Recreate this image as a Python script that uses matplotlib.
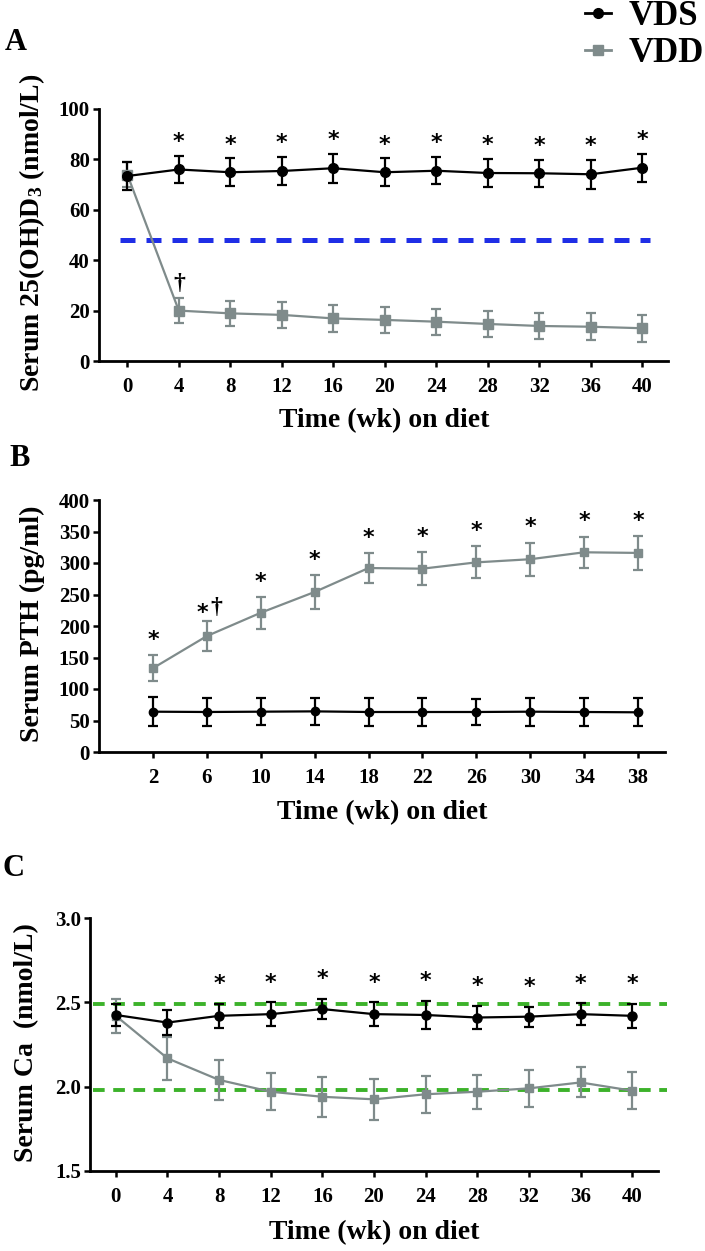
import matplotlib
matplotlib.use('Agg')
import matplotlib.pyplot as plt
from matplotlib.lines import Line2D

plt.rcParams['font.family'] = ['Liberation Serif', 'DejaVu Serif']
plt.rcParams['font.weight'] = 'bold'
plt.rcParams['mathtext.default'] = 'regular'

# ---------------- data ----------------
weeks_A = [0, 4, 8, 12, 16, 20, 24, 28, 32, 36, 40]
vds_A = [73.4, 76.0, 74.9, 75.4, 76.5, 74.9, 75.5, 74.6, 74.5, 74.1, 76.7]
vds_A_err = [5.5, 5.5, 5.5, 5.6, 5.7, 5.5, 5.4, 5.6, 5.4, 5.7, 5.6]
vdd_A = [74.0, 20.0, 18.9, 18.3, 16.9, 16.3, 15.6, 14.7, 13.9, 13.6, 13.0]
vdd_A_err = [5.0, 5.1, 5.0, 5.1, 5.2, 5.2, 5.2, 5.2, 5.1, 5.3, 5.3]
sig_A = ['', '*', '*', '*', '*', '*', '*', '*', '*', '*', '*']
dag_A = ['', '†', '', '', '', '', '', '', '', '', '']
threshold_A = 48

weeks_B = [2, 6, 10, 14, 18, 22, 26, 30, 34, 38]
vds_B = [64, 63.5, 64, 64.5, 63.5, 63.5, 63.5, 64, 63.5, 63]
vds_B_err = [23, 22, 21, 22, 23, 22, 21, 22, 23, 22]
vdd_B = [133, 184, 221, 254, 292, 291, 301, 306, 317, 316]
vdd_B_err = [20.5, 24, 25, 27, 24, 26, 25.5, 26.5, 25, 26.5]
sig_B = ['*', '*', '*', '*', '*', '*', '*', '*', '*', '*']
dag_B = ['', '†', '', '', '', '', '', '', '', '']

weeks_C = [0, 4, 8, 12, 16, 20, 24, 28, 32, 36, 40]
vds_C = [2.425, 2.38, 2.42, 2.43, 2.46, 2.43, 2.425, 2.41, 2.415, 2.43, 2.42]
vds_C_err = [0.065, 0.072, 0.071, 0.072, 0.061, 0.071, 0.084, 0.07, 0.059, 0.064, 0.072]
vdd_C = [2.42, 2.168, 2.04, 1.97, 1.94, 1.925, 1.955, 1.97, 1.99, 2.025, 1.976]
vdd_C_err = [0.099, 0.128, 0.12, 0.11, 0.12, 0.12, 0.11, 0.10, 0.11, 0.089, 0.11]
sig_C = ['', '', '*', '*', '*', '*', '*', '*', '*', '*', '*']
ref_C = [2.49, 1.98]

xticks_A = weeks_A
yticks_A = [0, 20, 40, 60, 80, 100]
xticks_B = weeks_B
yticks_B = [0, 50, 100, 150, 200, 250, 300, 350, 400]
xticks_C = weeks_C
yticks_C = [1.5, 2.0, 2.5, 3.0]
ytick_labels_C = ['1.5', '2.0', '2.5', '3.0']

# ---------------- styling ----------------
W, H = 705, 1251
BLACK = '#000000'
GREY = '#7f8b8b'
fig = plt.figure(figsize=(W / 100, H / 100), dpi=100)


def px_axes(left, right, top, bottom):
    return fig.add_axes([left / W, 1 - bottom / H, (right - left) / W, (bottom - top) / H])


def style(ax):
    for s in ['top', 'right']:
        ax.spines[s].set_visible(False)
    for s in ['left', 'bottom']:
        ax.spines[s].set_linewidth(2.0)
    ax.tick_params(axis='both', length=4.5, width=1.8, labelsize=15)
    ax.tick_params(axis='x', pad=7)
    ax.tick_params(axis='y', pad=2)
    for lab in ax.get_xticklabels() + ax.get_yticklabels():
        lab.set_fontweight('bold')


def draw(ax, x, y, e, color, marker, ms):
    ax.errorbar(x, y, yerr=e, color=color, marker=marker, ms=ms, lw=1.6,
                elinewidth=1.6, capsize=3.6, capthick=1.6, mec=color, mfc=color,
                clip_on=False, zorder=3)


def stars(ax, x, y, e, marks, off, dx=0, font='DejaVu Sans', size=16):
    for xi, yi, ei, m in zip(x, y, e, marks):
        if m:
            ax.annotate(m, (xi, yi + ei), xytext=(dx, off), textcoords='offset points',
                        ha='center', va='center', fontsize=size, fontweight='bold',
                        family=font, annotation_clip=False)


# ---------- Panel A ----------
axA = px_axes(99, 668, 109, 361)
draw(axA, weeks_A, vdd_A, vdd_A_err, GREY, 's', 6.5)
draw(axA, weeks_A, vds_A, vds_A_err, BLACK, 'o', 7)
axA.hlines(threshold_A, -0.6, 40.6, colors='#1f2ee6', linestyles=(0, (3.0, 2.2)), lw=3.6, zorder=2)
axA.set_xlim(-2.2, 42)
axA.set_ylim(0, 100)
axA.set_xticks(xticks_A)
axA.set_yticks(yticks_A)
style(axA)
stars(axA, weeks_A, vds_A, vds_A_err, sig_A, 10)
stars(axA, weeks_A, vdd_A, vdd_A_err, dag_A, 10, font='Liberation Serif', size=17)

# ---------- Panel B ----------
axB = px_axes(99, 665, 500, 752)
draw(axB, weeks_B, vdd_B, vdd_B_err, GREY, 's', 6)
draw(axB, weeks_B, vds_B, vds_B_err, BLACK, 'o', 6)
axB.set_xlim(-2, 40)
axB.set_ylim(0, 400)
axB.set_xticks(xticks_B)
axB.set_yticks(yticks_B)
style(axB)
sigB_plain = [s if not d else '' for s, d in zip(sig_B, dag_B)]
stars(axB, weeks_B, vdd_B, vdd_B_err, sigB_plain, 11)
sigB_dag = [s if d else '' for s, d in zip(sig_B, dag_B)]
stars(axB, weeks_B, vdd_B, vdd_B_err, sigB_dag, 6, dx=-3)
stars(axB, weeks_B, vdd_B, vdd_B_err, dag_B, 10, dx=7, font='Liberation Serif', size=17)

# ---------- Panel C ----------
axC = px_axes(90, 658, 918, 1171)
for r in ref_C:
    axC.hlines(r, -1.8, 42.7, colors='#3cb22a', linestyles=(0, (3.0, 2.2)), lw=2.8,
               zorder=2, clip_on=False)
draw(axC, weeks_C, vdd_C, vdd_C_err, GREY, 's', 6)
draw(axC, weeks_C, vds_C, vds_C_err, BLACK, 'o', 6.5)
axC.set_xlim(-2, 42)
axC.set_ylim(1.5, 3.0)
axC.set_xticks(xticks_C)
axC.set_yticks(yticks_C)
axC.set_yticklabels(ytick_labels_C)
style(axC)
stars(axC, weeks_C, vds_C, vds_C_err, sig_C, 14)

# ---------- texts ----------
def ftext(x, y, s, **kw):
    fig.text(x / W, 1 - y / H, s, ha='center', va='center', fontweight='bold', **kw)

ftext(16, 43, 'A', fontsize=22)
ftext(20, 458, 'B', fontsize=22)
ftext(14, 868, 'C', fontsize=22)

ftext(384, 421, 'Time (wk) on diet', fontsize=20)
ftext(382, 813, 'Time (wk) on diet', fontsize=20)
ftext(374, 1233, 'Time (wk) on diet', fontsize=20)

ftext(32, 233, 'Serum 25(OH)D$_3$ (nmol/L)', fontsize=20, rotation=90)
ftext(32, 624, 'Serum PTH (pg/ml)', fontsize=20, rotation=90)
ftext(27, 1043, 'Serum Ca  (nmol/L)', fontsize=20, rotation=90)

handles = [Line2D([], [], color=BLACK, marker='o', ms=7, lw=2),
           Line2D([], [], color=GREY, marker='s', ms=6.5, lw=2)]
fig.legend(handles, ['VDS', 'VDD'], loc='upper left', bbox_to_anchor=(585 / W, 1 - 0 / H),
           frameon=False, handlelength=0.75, handletextpad=0.5, borderpad=0,
           borderaxespad=0, labelspacing=0.12, prop={'size': 25, 'weight': 'bold'})

fig.savefig('out.png', dpi=100)
